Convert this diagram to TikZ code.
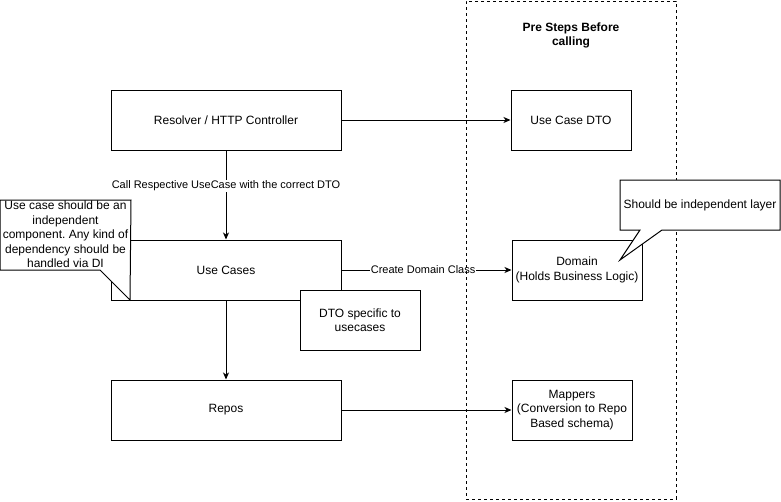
\documentclass[tikz,border=0pt]{standalone}
\usepackage{fontspec}
\setmainfont{Liberation Sans}
\usetikzlibrary{arrows.meta}
\frenchspacing
\begin{document}
\begin{tikzpicture}[x=1pt,y=-1pt,
  box/.style={draw, line width=1pt, fill=white, rectangle, inner sep=0pt, align=center,
    minimum height=60pt, font=\fontsize{12pt}{14.4pt}\selectfont},
  arr/.style={draw, line width=1pt, -{Stealth[length=7pt,width=6pt,inset=2pt]}},
  lbl/.style={fill=white, inner sep=1pt, font=\fontsize{11pt}{13pt}\selectfont},
  callout/.style={draw, line width=1pt, fill=white, line join=miter},
  txt/.style={align=center, inner sep=0pt, font=\fontsize{12pt}{14.4pt}\selectfont},
  grpbox/.style={draw, line width=1pt, dash pattern=on 3pt off 3pt, rectangle, inner sep=0pt}]
\useasboundingbox (0,0) rectangle (781,501);

% main boxes
\node[box, minimum width=230pt] (res) at (226,120) {Resolver / HTTP Controller};
\node[box, minimum width=120pt] (ucdto) at (571,120) {Use Case DTO};
\node[box, minimum width=230pt] (uc) at (226,270) {Use Cases};
\node[box, minimum width=130pt] (domain) at (577,270) {Domain\\(Holds Business Logic)};
\node[box, minimum width=230pt] (repos) at (226,410) {Repos};
\node[box, minimum width=120pt] (mappers) at (572,410) {Mappers\\(Conversion to Repo\\Based schema)};

% connectors
\draw[arr] (res.east) -- (ucdto.west);
\draw[arr] (res.south) -- node[lbl, pos=0.4] {Call Respective UseCase with the correct DTO} (uc.north);
\draw[arr] (uc.east) -- node[lbl, pos=0.48] {Create Domain Class} (domain.west);
\draw[arr] (uc.south) -- (repos.north);
\draw[arr] (repos.east) -- (mappers.west);

% group container
\node[grpbox, minimum width=210pt, minimum height=498pt] (grp) at (571,250) {};
\node[txt, font=\fontsize{12pt}{14.4pt}\selectfont\bfseries] (grptitle) at (571,35.5) {Pre Steps Before\\calling};

% DTO box overlapping use cases
\node[box, minimum width=120pt] (dto) at (360,320) {DTO specific to\\usecases};

% callouts
\draw[callout] (0,200) -- (131,200) -- (130,300) -- (100,270) -- (0,270) -- cycle;
\node[txt] (c1) at (65.5,234.5) {Use case should be an\\independent\\component. Any kind of\\dependency should be\\handled via DI};

\draw[callout] (620,180) -- (780,180) -- (780,230) -- (662,230) -- (620,260) -- (640,230) -- (620,230) -- cycle;
\node[txt] (c2) at (700,205) {Should be independent layer};
\end{tikzpicture}
\end{document}
